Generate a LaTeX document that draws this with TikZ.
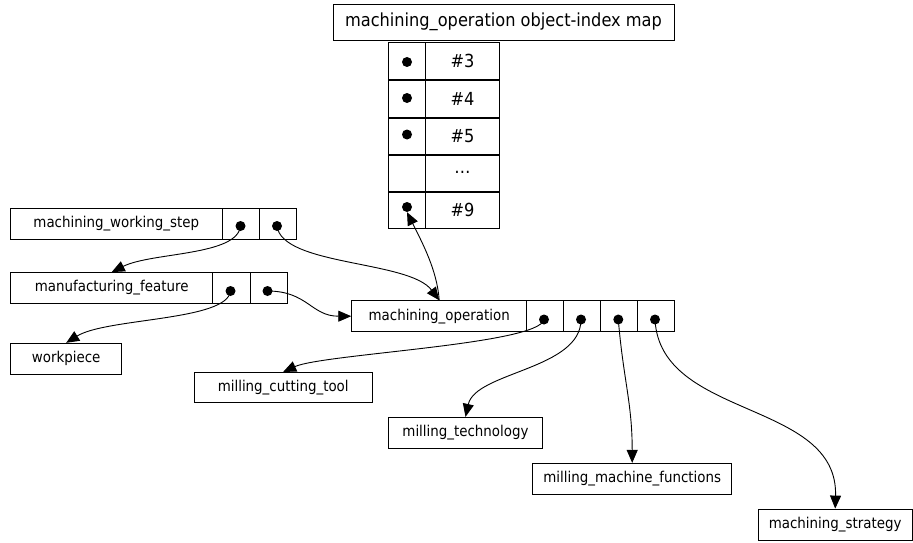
\documentclass[tikz,border=0pt]{standalone}
\usepackage{fontspec}
\setmainfont{DejaVu Sans Condensed}
\usetikzlibrary{arrows.meta}
\begin{document}
\begin{tikzpicture}[x=1pt,y=-1pt,
  box/.style={draw, line width=0.9pt, inner sep=0pt, minimum height=31pt, font=\fontsize{14.9}{17}\selectfont},
  bigbox/.style={box, font=\fontsize{18}{21}\selectfont},
  dot/.style={circle, fill, inner sep=0pt, minimum size=10pt},
  conn/.style={line width=0.9pt, -{Triangle[length=13pt,width=11pt]}},
  sep/.style={line width=1.8pt}
]
\useasboundingbox (0,0) rectangle (913,543);

% title and index map
\node[bigbox, minimum width=341pt, minimum height=36pt] (title) at (503.5,22) {machining\_operation object-index map};
\node[bigbox, minimum width=37pt, minimum height=37.3pt] (l1) at (407.2,61.2) {};
\node[bigbox, minimum width=73.6pt, minimum height=37.3pt] (r1) at (462.5,61.2) {\#3};
\node[bigbox, minimum width=37pt, minimum height=37.3pt] (l2) at (407.2,98.6) {};
\node[bigbox, minimum width=73.6pt, minimum height=37.3pt] (r2) at (462.5,98.6) {\#4};
\node[bigbox, minimum width=37pt, minimum height=37.3pt] (l3) at (407.2,135.8) {};
\node[bigbox, minimum width=73.6pt, minimum height=37.3pt] (r3) at (462.5,135.8) {\#5};
\node[bigbox, minimum width=37pt, minimum height=37.3pt] (l4) at (407.2,172.7) {};
\node[bigbox, minimum width=73.6pt, minimum height=37.3pt] (r4) at (462.5,172.7) {\ldots};
\node[bigbox, minimum width=37pt, minimum height=37.3pt] (l5) at (407.2,209.8) {};
\node[bigbox, minimum width=73.6pt, minimum height=37.3pt] (r5) at (462.5,209.8) {\#9};
\draw[sep] (l1.south west) -- (r1.south east);
\draw[sep] (l2.south west) -- (r2.south east);
\draw[sep] (l3.south west) -- (r3.south east);
\draw[sep] (l4.south west) -- (r4.south east);
\node[dot] (m3) at (407,62) {};
\node[dot] (m4) at (407,98) {};
\node[dot] (m5) at (407,134.5) {};
\node[dot] (m9) at (407,207) {};

% machining_working_step
\node[box, minimum width=211.3pt] (ws) at (116.3,223.8) {machining\_working\_step};
\node[box, minimum width=37.3pt] (wsc1) at (240.6,223.8) {};
\node[box, minimum width=37.4pt] (wsc2) at (278,223.8) {};
\node[dot] (wsa) at (240.5,226) {};
\node[dot] (wsb) at (277,226) {};

% manufacturing_feature
\node[box, minimum width=202pt, minimum height=30.5pt] (mf) at (111.7,287.8) {manufacturing\_feature};
\node[box, minimum width=37.3pt, minimum height=30.5pt] (mfc1) at (231.3,287.8) {};
\node[box, minimum width=37pt, minimum height=30.5pt] (mfc2) at (268.5,287.8) {};
\node[dot] (mfa) at (230.5,291) {};
\node[dot] (mfb) at (267.5,291) {};

% workpiece
\node[box, minimum width=111pt] (wp) at (66.2,358.8) {workpiece};

% machining_operation
\node[box, minimum width=175pt] (mo) at (439.2,316.2) {machining\_operation};
\node[box, minimum width=36.6pt] (moc1) at (545,316.2) {};
\node[box, minimum width=36.7pt] (moc2) at (581.7,316.2) {};
\node[box, minimum width=37.3pt] (moc3) at (618.7,316.2) {};
\node[box, minimum width=37pt] (moc4) at (655.8,316.2) {};
\node[dot] (moa) at (544,319.5) {};
\node[dot] (mob) at (581,319.5) {};
\node[dot] (moc) at (618.3,319.5) {};
\node[dot] (mod) at (655,319.5) {};

% targets
\node[box, minimum width=177.7pt, minimum height=30.4pt] (mct) at (283.2,387.5) {milling\_cutting\_tool};
\node[box, minimum width=154.4pt] (mt) at (465.5,432.8) {milling\_technology};
\node[box, minimum width=199pt, minimum height=30.7pt] (mmf) at (632.2,478.7) {milling\_machine\_functions};
\node[box, minimum width=153.7pt, minimum height=31.7pt] (ms) at (835.2,524.9) {machining\_strategy};

% connectors
\draw[conn] (wsa.center) .. controls +(-3,30) and +(40,-20) .. (mf.north);
\draw[conn] (wsb.center) .. controls +(5,40) and +(-30,-40) .. (mo.north);
\draw[conn] (mo.north) .. controls +(-2,-30) and +(15,30) .. (m9.south);
\draw[conn] (mfb.center) .. controls +(40,0) and +(-40,0) .. (mo.west);
\draw[conn] (mfa.center) .. controls +(-3,30) and +(40,-25) .. (wp.north);
\draw[conn] (moa.center) .. controls +(-5,25) and +(40,-18) .. (mct.north);
\draw[conn] (mob.center) .. controls +(0,50) and +(10,-45) .. (mt.north);
\draw[conn] (moc.center) .. controls +(5,60) and +(0,-60) .. (mmf.north);
\draw[conn] (mod.center) .. controls +(5,100) and +(3,-109) .. (ms.north);
\end{tikzpicture}
\end{document}
